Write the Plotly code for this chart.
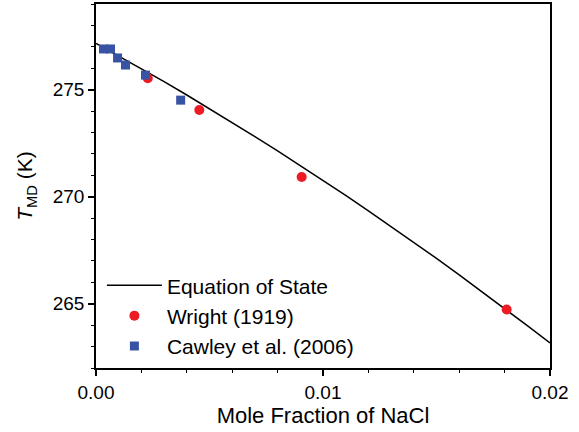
import plotly.graph_objects as go

# Equation of state curve
eos_x = [0.000, 0.001, 0.002, 0.003, 0.004, 0.005, 0.006, 0.007, 0.008, 0.009, 0.010,
         0.011, 0.012, 0.013, 0.014, 0.015, 0.016, 0.017, 0.018, 0.019, 0.020]
eos_y = [277.16, 276.57, 275.98, 275.37, 274.75, 274.11, 273.47, 272.81, 272.14, 271.46, 270.77,
         270.06, 269.34, 268.61, 267.87, 267.12, 266.35, 265.57, 264.79, 263.98, 263.17]

# Wright (1919)
wright_x = [0.00228, 0.00455, 0.00906, 0.01809]
wright_y = [275.53, 274.05, 270.92, 264.73]

# Cawley et al. (2006)
cawley_x = [0.00033, 0.00064, 0.00095, 0.00130, 0.00218, 0.00373]
cawley_y = [276.90, 276.90, 276.48, 276.15, 275.68, 274.51]

fig = go.Figure()
fig.add_trace(go.Scatter(x=eos_x, y=eos_y, mode="lines", name="Equation of State",
                         line=dict(color="black", width=1.5)))
fig.add_trace(go.Scatter(x=wright_x, y=wright_y, mode="markers", name="Wright (1919)",
                         marker=dict(color="#ED1C24", size=10, symbol="circle")))
fig.add_trace(go.Scatter(x=cawley_x, y=cawley_y, mode="markers", name="Cawley et al. (2006)",
                         marker=dict(color="#3953A4", size=9, symbol="square")))

font = "Liberation Sans, Arial, sans-serif"
fig.update_layout(
    width=579, height=432,
    margin=dict(l=96, r=29, t=4, b=64, autoexpand=False),
    paper_bgcolor="white", plot_bgcolor="white",
    font=dict(family=font, size=19, color="black"),
    showlegend=True,
    legend=dict(x=0.013, y=0.005, xanchor="left", yanchor="bottom",
                bgcolor="rgba(0,0,0,0)", font=dict(size=21), itemwidth=55),
)
fig.update_xaxes(range=[0, 0.02], tickmode="linear", tick0=0, dtick=0.01, tickformat=".2f",
                 showline=True, linecolor="black", linewidth=1.5, mirror=True,
                 ticks="outside", ticklen=6, tickwidth=1.5, tickcolor="black",
                 minor=dict(dtick=0.002, ticks="outside", ticklen=3, tickwidth=1.2, tickcolor="black"),
                 showgrid=False, zeroline=False, automargin=False,
                 title=dict(text="Mole Fraction of NaCl", standoff=6, font=dict(size=22)))
fig.update_yaxes(range=[262, 279], tickmode="linear", tick0=0, dtick=5,
                 showline=True, linecolor="black", linewidth=1.5, mirror=True,
                 ticks="outside", ticklen=6, tickwidth=1.5, tickcolor="black",
                 minor=dict(dtick=1, ticks="outside", ticklen=3, tickwidth=1.2, tickcolor="black"),
                 showgrid=False, zeroline=False, automargin=False,
                 title=dict(text="<i>T</i><sub>MD</sub> (K)", standoff=14, font=dict(size=21)))

fig.write_html("out.html", config={"displayModeBar": False},
               post_script="document.body.style.margin='0';document.body.style.padding='0';")
